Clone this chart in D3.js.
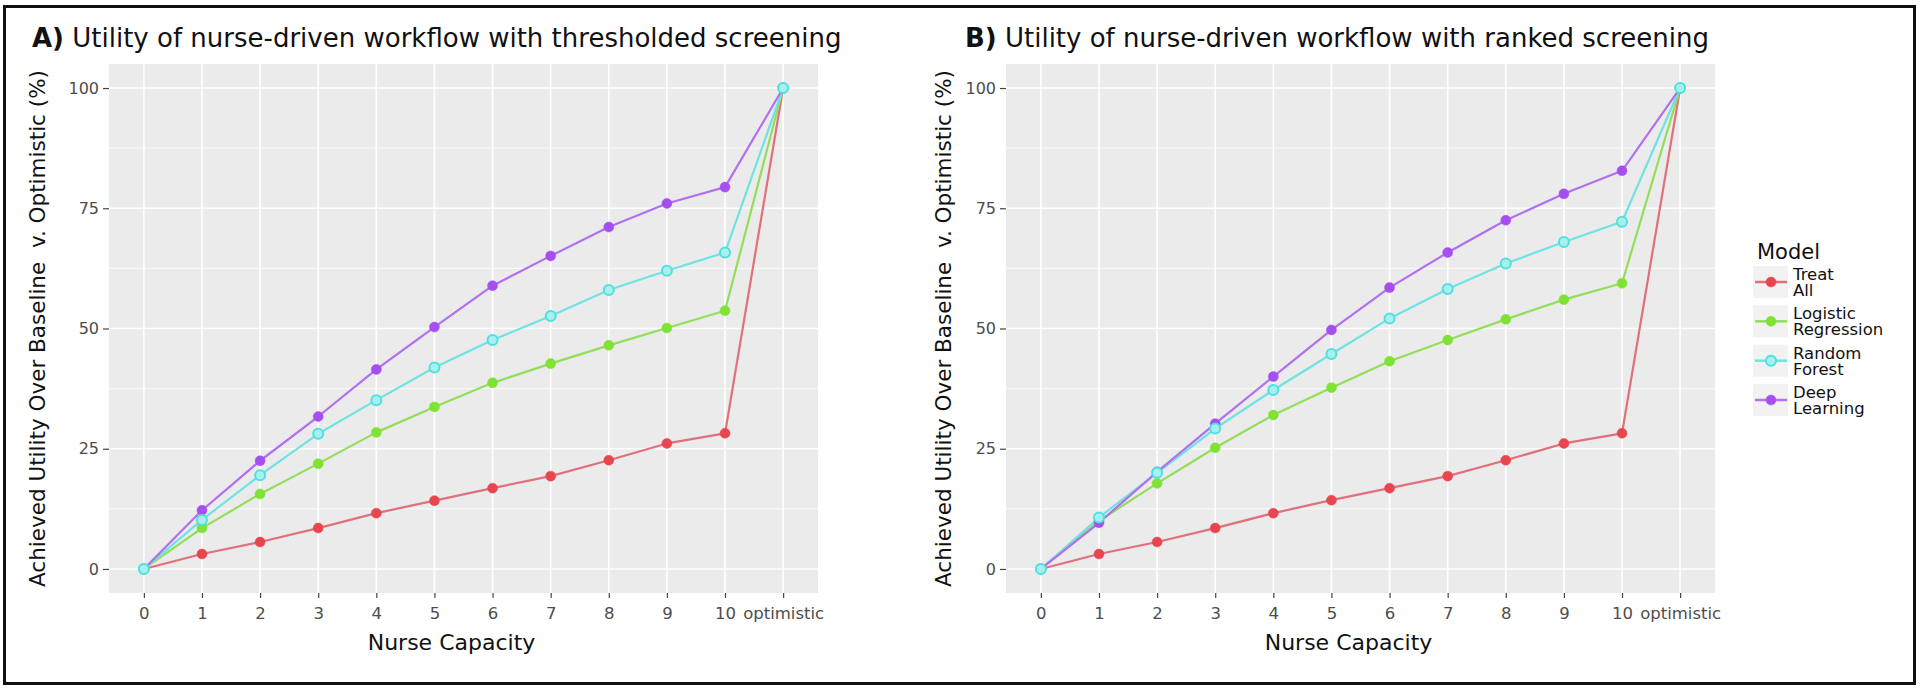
<!DOCTYPE html>
<html>
<head>
<meta charset="utf-8">
<script src="https://cdn.jsdelivr.net/npm/d3@7"></script>
<style>
  html, body { margin: 0; padding: 0; background: #fff; }
  svg { display: block; font-family: "DejaVu Sans", sans-serif; }
</style>
</head>
<body>
<svg id="chart" width="1920" height="695"></svg>
<script>
// ---------- data ----------
const categories = ["0", "1", "2", "3", "4", "5", "6", "7", "8", "9", "10", "optimistic"];
const models = ["Treat All", "Logistic Regression", "Random Forest", "Deep Learning"];
const legendLabels = [["Treat", "All"], ["Logistic", "Regression"], ["Random", "Forest"], ["Deep", "Learning"]];
const yTicks = [0, 25, 50, 75, 100];
const yMinorTicks = [12.5, 37.5, 62.5, 87.5];

// Panel A: thresholded screening
const treatAllA = [0, 3.1, 5.6, 8.5, 11.6, 14.2, 16.8, 19.3, 22.6, 26.1, 28.2, 100];
const logisticA = [0, 8.5, 15.6, 21.9, 28.4, 33.7, 38.7, 42.7, 46.5, 50.1, 53.7, 100];
const forestA   = [0, 10.2, 19.5, 28.1, 35.1, 41.9, 47.6, 52.6, 58.0, 62.0, 65.8, 100];
const deepA     = [0, 12.2, 22.5, 31.7, 41.5, 50.3, 58.9, 65.1, 71.1, 76.0, 79.4, 100];

// Panel B: ranked screening
const treatAllB = [0, 3.1, 5.6, 8.5, 11.6, 14.3, 16.8, 19.3, 22.6, 26.1, 28.2, 100];
const logisticB = [0, 10.0, 17.8, 25.2, 32.0, 37.7, 43.2, 47.6, 51.9, 56.0, 59.4, 100];
const forestB   = [0, 10.7, 20.0, 29.2, 37.2, 44.7, 52.1, 58.2, 63.5, 68.0, 72.2, 100];
const deepB     = [0, 9.6, 20.2, 30.2, 40.0, 49.7, 58.5, 65.8, 72.5, 78.0, 82.8, 100];

const titleA = "Utility of nurse-driven workflow with thresholded screening";
const titleB = "Utility of nurse-driven workflow with ranked screening";
const yTitle = "Achieved Utility Over Baseline  v. Optimistic (%)";
const xTitle = "Nurse Capacity";
const legendTitle = "Model";

// ---------- style ----------
const pointColors = ["#E8464F", "#7FE234", "#4FE0E0", "#A64FF0"];
const lineColors  = ["#E0707A", "#92DE5A", "#6FE3E3", "#B070F0"];
const pointOrder = [0, 1, 3, 2];

const svg = d3.select("#chart");

// outer border
svg.append("rect").attr("x", 4.5).attr("y", 6.5).attr("width", 1910).attr("height", 677)
  .attr("fill", "none").attr("stroke", "#111").attr("stroke-width", 3);

function drawPanel(cfg) {
  const { left, right, top, bottom, series, label, title, titleX, yTitleX, xTitleShift } = cfg;
  const g = svg.append("g");
  const x = d3.scalePoint().domain(categories).range([left, right]).padding(0.6);
  const y = d3.scaleLinear().domain([-5, 105]).range([bottom, top]);

  // panel background
  g.append("rect").attr("x", left).attr("y", top).attr("width", right - left).attr("height", bottom - top)
    .attr("fill", "#EBEBEB");

  // minor grid
  g.selectAll(".ymin").data(yMinorTicks).join("line")
    .attr("x1", left).attr("x2", right).attr("y1", d => y(d)).attr("y2", d => y(d))
    .attr("stroke", "#fff").attr("stroke-width", 0.8);
  // major grid
  g.selectAll(".ymaj").data(yTicks).join("line")
    .attr("x1", left).attr("x2", right).attr("y1", d => y(d)).attr("y2", d => y(d))
    .attr("stroke", "#fff").attr("stroke-width", 1.6);
  g.selectAll(".xmaj").data(categories).join("line")
    .attr("x1", d => x(d)).attr("x2", d => x(d)).attr("y1", top).attr("y2", bottom)
    .attr("stroke", "#fff").attr("stroke-width", 1.6);

  // axes
  const yAxis = d3.axisLeft(y).tickValues(yTicks).tickSize(6).tickPadding(4).tickFormat(d3.format("d"));
  const ya = g.append("g").attr("transform", `translate(${left},0)`).call(yAxis);
  ya.select(".domain").remove();
  ya.selectAll(".tick line").attr("stroke", "#444").attr("stroke-width", 1.2);
  ya.selectAll(".tick text").attr("fill", "#4D4D4D").style("font-size", "16px")
    .style("font-family", "DejaVu Sans");

  const xAxis = d3.axisBottom(x).tickSize(5).tickPadding(9);
  const xa = g.append("g").attr("transform", `translate(0,${bottom})`).call(xAxis);
  xa.select(".domain").remove();
  xa.selectAll(".tick line").attr("stroke", "#444").attr("stroke-width", 1.2);
  xa.selectAll(".tick text").attr("fill", "#4D4D4D").style("font-size", "16.5px")
    .style("font-family", "DejaVu Sans");

  // lines and points
  const line = d3.line().x((d, i) => x(categories[i])).y(d => y(d));
  series.forEach((vals, k) => {
    g.append("path").datum(vals).attr("d", line).attr("fill", "none")
      .attr("stroke", lineColors[k]).attr("stroke-width", 2.2).attr("stroke-linejoin", "round");
  });
  pointOrder.forEach(k => {
    const vals = series[k];
    g.selectAll(null).data(vals).join("circle")
      .attr("cx", (d, i) => x(categories[i])).attr("cy", d => y(d)).attr("r", 5)
      .attr("fill", k === 2 ? "#A8F0EE" : pointColors[k])
      .attr("stroke", pointColors[k]).attr("stroke-width", k === 2 ? 2 : 0.5);
  });

  // title
  const t = g.append("text").attr("x", titleX).attr("y", 47).attr("fill", "#111").style("font-size", "26px");
  t.append("tspan").attr("font-weight", "bold").text(label + ")");
  t.append("tspan").text(" " + title);

  // y axis title
  const cy = (top + bottom) / 2;
  g.append("text").attr("transform", `translate(${yTitleX},${cy}) rotate(-90)`)
    .attr("text-anchor", "middle").attr("fill", "#111").style("font-size", "21.5px")
    .style("white-space", "pre").text(yTitle);

  // x axis title
  g.append("text").attr("x", (left + right) / 2 + xTitleShift).attr("y", 650)
    .attr("text-anchor", "middle").attr("fill", "#111").style("font-size", "22px").text(xTitle);
}

drawPanel({ left: 109, right: 818, top: 64, bottom: 593,
  series: [treatAllA, logisticA, forestA, deepA], label: "A", title: titleA,
  titleX: 32, yTitleX: 45, xTitleShift: -12 });
drawPanel({ left: 1006, right: 1715, top: 64, bottom: 593,
  series: [treatAllB, logisticB, forestB, deepB], label: "B", title: titleB,
  titleX: 965, yTitleX: 951, xTitleShift: -12 });

// legend
const lg = svg.append("g");
lg.append("text").attr("x", 1757).attr("y", 259).attr("fill", "#111").style("font-size", "21px").text(legendTitle);
const entryY = d3.scalePoint().domain(models).range([282, 400]);
models.forEach((m, k) => {
  const cy = entryY(m);
  lg.append("rect").attr("x", 1753).attr("y", cy - 16).attr("width", 35).attr("height", 32).attr("fill", "#F2F2F2");
  lg.append("line").attr("x1", 1755).attr("x2", 1787).attr("y1", cy).attr("y2", cy)
    .attr("stroke", lineColors[k]).attr("stroke-width", 2.5);
  lg.append("circle").attr("cx", 1771).attr("cy", cy).attr("r", 5)
    .attr("fill", k === 2 ? "#A8F0EE" : pointColors[k]).attr("stroke", pointColors[k])
    .attr("stroke-width", k === 2 ? 2 : 0.5);
  const tx = lg.append("text").attr("x", 1793).attr("y", cy - 2).attr("fill", "#111").style("font-size", "16.5px");
  legendLabels[k].forEach((s, j) => {
    tx.append("tspan").attr("x", 1793).attr("dy", j === 0 ? 0 : 16).text(s);
  });
});
</script>
</body>
</html>
